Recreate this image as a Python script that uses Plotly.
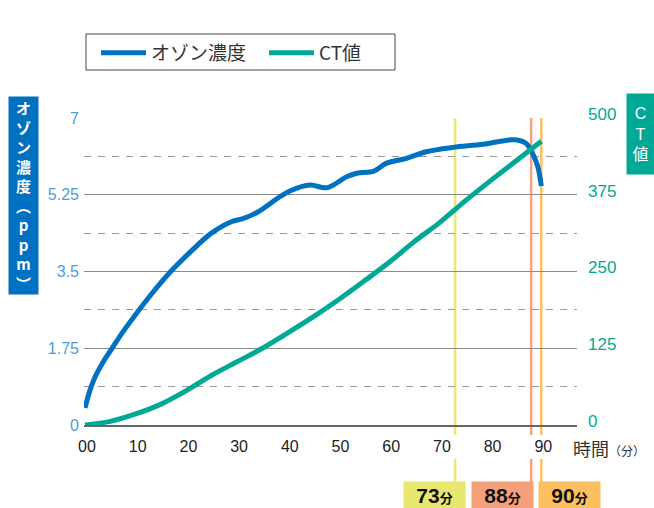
import plotly.graph_objects as go

# ---- data ----
ozone_t = [0, 1, 2, 3.5, 5, 7.5, 10, 13, 17, 21, 25, 29, 31, 34, 38.5, 40.5, 44.4, 47.7, 51.6, 53.6,
           57, 59.5, 63.4, 67.3, 72.6, 78.5, 83.7, 85.3, 87, 88.3, 89.3, 90]
ozone_v = [0.39, 0.80, 1.10, 1.42, 1.69, 2.13, 2.52, 2.97, 3.51, 3.97, 4.38, 4.64, 4.70, 4.85, 5.21,
           5.34, 5.47, 5.41, 5.66, 5.74, 5.79, 5.97, 6.08, 6.23, 6.33, 6.40, 6.50, 6.50, 6.42, 6.19,
           5.89, 5.45]
ct_t = [0, 5, 10, 15, 20, 25, 30, 35, 40, 45, 50, 55, 60, 65, 70, 75, 80, 85, 90]
ct_v = [0, 6, 18, 34, 56, 81, 103, 125, 150, 176, 204, 234, 265, 299, 330, 365, 398, 430, 462]

x_ticks = [0, 10, 20, 30, 40, 50, 60, 70, 80, 90]
x_tick_text = ["00", "10", "20", "30", "40", "50", "60", "70", "80", "90"]
left_ticks = [0, 1.75, 3.5, 5.25, 7]
left_tick_text = ["0", "1.75", "3.5", "5.25", "7"]
right_ticks = [0, 125, 250, 375, 500]

marker_times = [73, 88, 90]
marker_labels = ["73", "88", "90"]
marker_line_colors = ["#e9e977", "#f5a27e", "#fbc066"]
marker_box_colors = ["#e8e870", "#f5a078", "#fcc060"]

FONT = "Liberation Sans, Noto Sans CJK JP, sans-serif"
JP = "Noto Sans CJK JP, sans-serif"
BLUE = "#0070c0"
TEAL = "#00a896"

# plot area in pixels
L, R, T, B = 84, 577, 118, 425
W, H = 654, 508


def px(x):
    return (x - L) / (R - L)


def py(y):
    return (B - y) / (B - T)


fig = go.Figure()
fig.add_trace(go.Scatter(x=ozone_t, y=ozone_v, name="オゾン濃度", mode="lines",
                         line=dict(color=BLUE, width=5, shape="spline", smoothing=1.0)))
fig.add_trace(go.Scatter(x=ct_t, y=ct_v, name="CT値", mode="lines", yaxis="y2",
                         line=dict(color=TEAL, width=5, shape="spline", smoothing=1.0)))

shapes = []
for t, c in zip(marker_times, marker_line_colors):
    shapes.append(dict(type="line", xref="x", yref="paper", x0=t, x1=t, y0=py(435), y1=1,
                       line=dict(color=c, width=2.5), layer="below"))
    shapes.append(dict(type="line", xref="x", yref="paper", x0=t, x1=t, y0=py(482), y1=py(459),
                       line=dict(color=c, width=2.5), layer="below"))
# legend frame
shapes.append(dict(type="rect", xref="paper", yref="paper", x0=px(86), x1=px(395),
                   y0=py(70), y1=py(34), line=dict(color="#444", width=1)))

annotations = []
box_centers = [434, 502.5, 569.5]
for lab, cx, bc in zip(marker_labels, box_centers, marker_box_colors):
    annotations.append(dict(
        xref="paper", yref="paper", x=px(cx), y=py(495), xanchor="center", yanchor="middle",
        text=f"<b>{lab}</b><b><span style='font-size:13px'>分</span></b>",
        font=dict(family=FONT, size=21, color="#111"), showarrow=False,
        bgcolor=bc, width=61, height=26, borderpad=0))

annotations.append(dict(
    xref="paper", yref="paper", x=px(23.5), y=py(195.5), xanchor="center", yanchor="middle",
    text="<br>".join(list("オゾン濃度︵ppm︶")), showarrow=False,
    font=dict(family=JP, size=15, color="white", weight="bold"),
    bgcolor=BLUE, width=29, height=197, borderpad=0))
annotations.append(dict(
    xref="paper", yref="paper", x=px(640.5), y=py(134), xanchor="center", yanchor="middle",
    text="C<br>T<br>値", showarrow=False,
    font=dict(family=FONT, size=16, color="white"),
    bgcolor=TEAL, width=27, height=80, borderpad=0))
annotations.append(dict(
    xref="paper", yref="paper", x=px(571), y=py(448), xanchor="left", yanchor="middle",
    text="時間<span style='font-size:12px'>（分）</span>", showarrow=False,
    font=dict(family=JP, size=18, color="#333")))

fig.update_layout(
    width=W, height=H,
    margin=dict(l=L, r=W - R, t=T, b=H - B, pad=0),
    paper_bgcolor="white", plot_bgcolor="white",
    font=dict(family=FONT, color="#333"),
    showlegend=True,
    legend=dict(orientation="h", x=px(96), y=py(34), xanchor="left", yanchor="top",
                borderwidth=0, font=dict(family=JP, size=19, color="#333"),
                itemwidth=45, entrywidth=108, bgcolor="rgba(0,0,0,0)"),
    xaxis=dict(range=[-0.2, 97.04], tickvals=x_ticks, ticktext=x_tick_text, showgrid=False,
               zeroline=False, showline=True, linecolor="#666", linewidth=1.5,
               ticks="", tickfont=dict(family=FONT, size=16, color="#222"),
               ticklabelshift=2, ticklabelstandoff=6),
    yaxis=dict(range=[0, 7], tickvals=left_ticks, ticktext=left_tick_text, showgrid=True,
               gridcolor="#8a8a8a", gridwidth=1.3, zeroline=False, ticks="",
               tickfont=dict(family=FONT, size=16, color="#4f9dd8"), ticklabelstandoff=4,
               minor=dict(dtick=0.875, tick0=0, showgrid=True, gridcolor="#9a9a9a",
                          gridwidth=1.3, griddash="7px,7px")),
    yaxis2=dict(range=[0, 500], tickvals=right_ticks, overlaying="y", side="right",
                showgrid=False, zeroline=False, ticks="",
                tickfont=dict(family=FONT, size=17, color=TEAL), ticklabelstandoff=10,
                ticklabelshift=-4),
    shapes=shapes, annotations=annotations,
)

fig.write_html("out.html", config={"displayModeBar": False},
               post_script="document.body.style.margin='0';document.body.style.overflow='hidden';")
